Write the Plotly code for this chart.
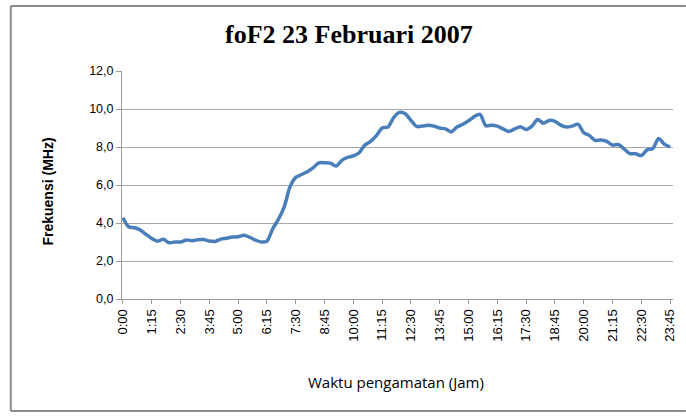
import plotly.graph_objects as go

times = [f"{h}:{m:02d}" for h in range(24) for m in (0, 15, 30, 45)]

fof2 = [4.28, 3.80, 3.75, 3.63, 3.40, 3.19, 3.04, 3.14, 2.96, 3.00,
        3.00, 3.10, 3.07, 3.12, 3.13, 3.05, 3.03, 3.15, 3.20, 3.26,
        3.28, 3.35, 3.25, 3.10, 3.00, 3.05, 3.70, 4.20, 4.85, 5.90,
        6.40, 6.55, 6.70, 6.90, 7.17, 7.17, 7.15, 7.00, 7.30, 7.45,
        7.53, 7.70, 8.10, 8.30, 8.60, 9.00, 9.05, 9.55, 9.82, 9.75,
        9.40, 9.08, 9.10, 9.15, 9.10, 9.00, 8.95, 8.80, 9.05, 9.20,
        9.38, 9.60, 9.72, 9.12, 9.15, 9.10, 8.95, 8.82, 8.95, 9.07,
        8.92, 9.10, 9.45, 9.25, 9.40, 9.35, 9.15, 9.05, 9.10, 9.20,
        8.75, 8.60, 8.35, 8.37, 8.30, 8.10, 8.13, 7.90, 7.65, 7.65,
        7.55, 7.85, 7.92, 8.45, 8.15, 8.00]

x_ticks = times[::5]
y_ticks = [0, 2, 4, 6, 8, 10, 12]
y_tick_text = ["0,0", "2,0", "4,0", "6,0", "8,0", "10,0", "12,0"]

title_text = "foF2 23 Februari 2007"
x_title = "Waktu pengamatan (Jam)"
y_title = "Frekuensi (MHz)"

idx = list(range(len(times)))

fig = go.Figure()
fig.add_trace(go.Scatter(
    x=idx, y=fof2, mode="lines",
    line=dict(color="#4A7EBB", width=3.5, shape="spline", smoothing=0.8),
    hoverinfo="skip", showlegend=False,
))

L, R, T, B = 122, 9, 71, 117
W, H = 686, 416
pw, ph = W - L - R, H - T - B

def px(xp):
    return (xp - L) / pw

def py(yp):
    return (H - B - yp) / ph

fig.update_layout(
    width=W, height=H,
    margin=dict(l=L, r=R, t=T, b=B),
    paper_bgcolor="white", plot_bgcolor="white",
    font=dict(family="Liberation Sans", color="#000000"),
    xaxis=dict(
        range=[-0.17, 95.5],
        tickmode="array",
        tickvals=[times.index(t) for t in x_ticks],
        ticktext=x_ticks,
        tickangle=-90,
        tickfont=dict(size=13, family="Liberation Sans"),
        showgrid=False, zeroline=False,
        showline=True, linecolor="#9a9a9a", linewidth=1,
        ticks="outside", ticklen=4, tickcolor="#9a9a9a",
    ),
    yaxis=dict(
        range=[0, 12],
        tickmode="array",
        tickvals=y_ticks,
        ticktext=y_tick_text,
        tickfont=dict(size=12.5, family="Liberation Sans"),
        showgrid=True, gridcolor="#a6a6a6", gridwidth=1,
        zeroline=False,
        showline=True, linecolor="#9a9a9a", linewidth=1,
        ticks="outside", ticklen=5, tickcolor="#9a9a9a",
    ),
    annotations=[
        dict(text=f"<b>{title_text}</b>", xref="paper", yref="paper",
             x=px(351), y=py(35), xanchor="center", yanchor="middle",
             showarrow=False, font=dict(family="Liberation Serif", size=26)),
        dict(text=x_title, xref="paper", yref="paper",
             x=px(398), y=py(382), xanchor="center", yanchor="middle",
             showarrow=False, font=dict(family="Open Sans", size=15)),
        dict(text=f"<b>{y_title}</b>", xref="paper", yref="paper",
             x=px(47), y=py(192), xanchor="center", yanchor="middle",
             textangle=-90, showarrow=False,
             font=dict(family="Liberation Sans", size=14)),
    ],
    shapes=[
        dict(type="line", xref="paper", yref="paper",
             x0=px(10), x1=px(690), y0=py(6), y1=py(6),
             line=dict(color="#8c8c8c", width=2)),
        dict(type="line", xref="paper", yref="paper",
             x0=px(10), x1=px(10), y0=py(6), y1=py(411),
             line=dict(color="#8c8c8c", width=2)),
        dict(type="line", xref="paper", yref="paper",
             x0=px(10), x1=px(690), y0=py(411), y1=py(411),
             line=dict(color="#8c8c8c", width=2)),
    ],
)

fig.write_html(
    "out.html",
    config={"displayModeBar": False},
    post_script="document.body.style.margin='0';document.body.style.overflow='hidden';",
)
